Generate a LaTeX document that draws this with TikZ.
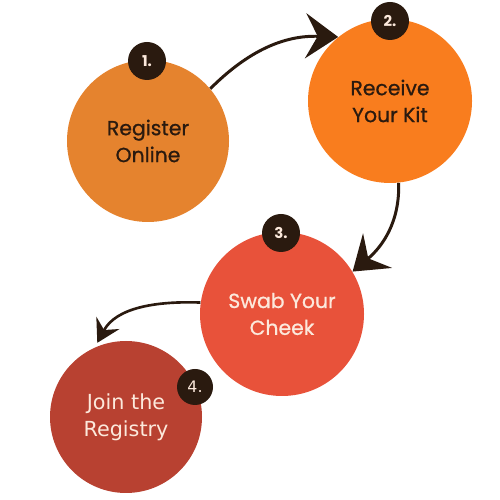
\documentclass[tikz,border=0pt]{standalone}
\usepackage{fontspec}
\newfontfamily\pop{Poppins}
\newfontfamily\popm{Poppins}[FakeBold=0.8]
\newfontfamily\dvs{DejaVu Sans}
\usetikzlibrary{arrows.meta}
\definecolor{stepone}{HTML}{E5832E}
\definecolor{steptwo}{HTML}{F97D1E}
\definecolor{stepthree}{HTML}{E8523A}
\definecolor{stepfour}{HTML}{B84131}
\definecolor{darkbrown}{HTML}{2A1A0F}
\definecolor{cream}{HTML}{FCE9DC}
\begin{document}
\begin{tikzpicture}[
    bigcircle/.style={circle, minimum size=3.28cm, inner sep=0pt, align=center, font=\popm\fontsize{11.6}{15.3}\selectfont},
    badge/.style={circle, fill=darkbrown, text=cream, minimum size=0.76cm, inner sep=0pt, font=\pop\bfseries\fontsize{8.5}{8.5}\selectfont},
    flow/.style={draw=darkbrown, line width=1.7pt, -{Stealth[length=0.65cm, width=0.9cm, inset=0.24cm]}}
]
    \useasboundingbox (0, 0) rectangle (10, 10);

    \node[bigcircle, fill=stepone, text=darkbrown, minimum size=3.24cm] (reg) at (2.96, 7.18) {Register\\Online};
    \node[bigcircle, fill=steptwo, text=darkbrown] (kit) at (7.80, 7.98) {Receive\\Your Kit};
    \node[bigcircle, fill=stepthree, text=cream] (swab) at (5.64, 3.72) {Swab Your\\Cheek};
    \node[bigcircle, fill=stepfour, text=cream, minimum size=3.04cm, font=\dvs\fontsize{11.8}{15.3}\selectfont] (join) at (2.52, 1.66) {Join the\\Registry};

    \draw[flow] (reg.40) to[out=45, in=178] (kit.129);
    \draw[flow] (kit.-84) to[out=-88, in=40] (swab.31);
    \draw[flow, line width=1.5pt, -{Stealth[length=0.45cm, width=0.52cm, inset=0.16cm]}, shorten >=0.1cm] (swab.172) to[out=178, in=62] (join.114);

    \node[badge] (b1) at (2.94, 8.78) {1.};
    \node[badge] (b2) at (7.80, 9.58) {2.};
    \node[badge] (b3) at (5.62, 5.34) {3.};
    \node[badge, minimum size=0.72cm, font=\dvs\fontsize{9}{9}\selectfont] (b4) at (3.90, 2.26) {4.};

\end{tikzpicture}
\end{document}
